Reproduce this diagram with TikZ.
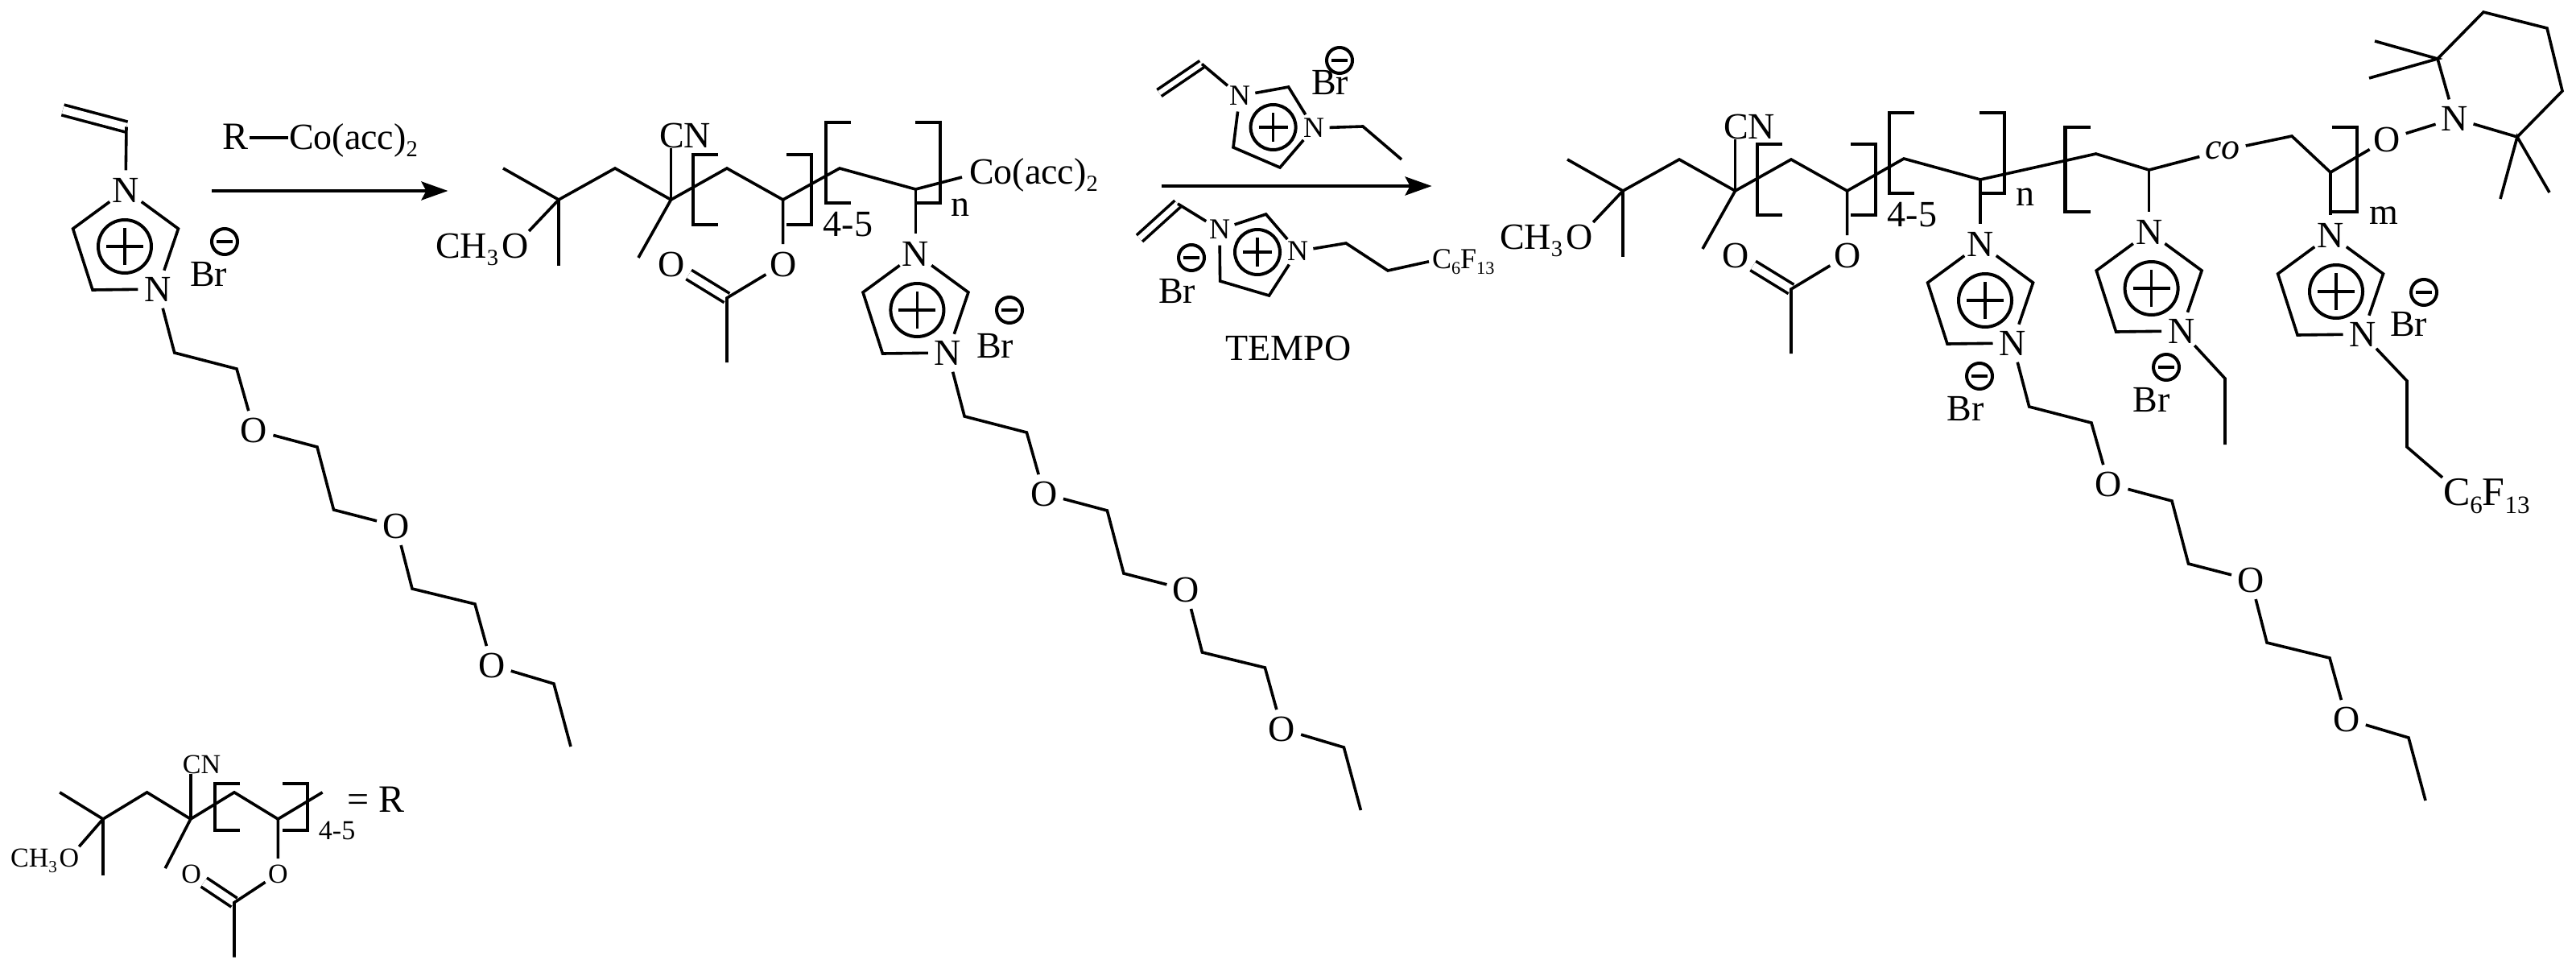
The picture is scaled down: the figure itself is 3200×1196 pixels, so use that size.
\documentclass[tikz,border=0pt]{standalone}
\usepackage{fontspec}
\setmainfont{Liberation Serif}
\usetikzlibrary{arrows.meta}

\newcommand{\AtomSize}{\fontsize{46}{50}\selectfont}
\newcommand{\chemsub}[1]{\raisebox{-.2em}{\scalebox{.62}{#1}}}

\newcommand{\ChargePlus}[4]{
  \node[ChargeStyle, minimum size=#3pt](#1) at #2 {};
  \draw[ChargeBarStyle, line width=3.5pt]([xshift=-#4pt]#1.center) -- ([xshift=#4pt]#1.center);
  \draw[ChargeBarStyle, line width=3.5pt]([yshift=-#4pt]#1.center) -- ([yshift=#4pt]#1.center);
}
\newcommand{\ChargeMinus}[2]{
  \node[ChargeStyle, minimum size=32pt](#1) at #2 {};
  \draw[ChargeBarStyle]([xshift=-10pt]#1.center) -- ([xshift=10pt]#1.center);
}
\newcommand{\PolyBracket}[4]{
  \draw[BracketStyle](#1+31,#3) -- (#1,#3) -- (#1,#4) -- (#1+31,#4);
  \draw[BracketStyle](#2-31,#3) -- (#2,#3) -- (#2,#4) -- (#2-31,#4);
}
% chain end with the acetate, from the quaternary carbon
\newcommand{\HeadUnit}{
  \coordinate(Cq) at (0,0);
  \coordinate(Me1) at (-69,-39);
  \coordinate(Me2) at (0,82);
  \coordinate(C2) at (70,-39);
  \coordinate(C3) at (139.5,0);
  \coordinate(Me3) at (99,72);
  \coordinate(C4) at (209,-39);
  \coordinate(C5) at (278.6,0);
  \coordinate(C10) at (209,122);
  \coordinate(Me4) at (209,202);
  \node[AtomStyle](OMe) at (-54,57) {O};
  \node[LabelStyle, anchor=base east, xshift=5pt](CH) at (OMe.base west) {CH\chemsub{3}};
  \node[LabelStyle](CN) at (157,-80) {CN};
  \node[AtomStyle](OEs) at (278.6,80) {O};
  \node[AtomStyle](OCo) at (140.5,80) {O};
  \draw[DoubleStyle](C10) to (OCo);
  \draw[BondStyle](Me1) -- (Cq) -- (C2) -- (C3) -- (C4) -- (C5) -- (OEs) -- (C10) -- (Me4);
  \draw[BondStyle](Cq) to (OMe);
  \draw[BondStyle](Cq) to (Me2);
  \draw[BondStyle](C3) to (Me3);
  \draw[BondStyle](C3) -- (C3 |- CN.south);
}
\newcommand{\RingUnit}[2]{
  \node[AtomStyle](N1) at (0,0) {N};
  \node[AtomStyle](N2) at (40,123) {N};
  \coordinate(Cr) at (65.5,48);
  \coordinate(Cl) at (-65.4,48);
  \coordinate(Cb) at (-41,124);
  \draw[BondStyle](N1) -- (Cr) -- (N2) -- (Cb) -- (Cl) -- (N1);
  \ChargePlus{Pl}{(#1,70)}{#2}{23}
}
\newcommand{\PegTail}{
  \coordinate(T1) at (20.7,79);
  \coordinate(T2) at (98,99);
  \node[AtomStyle](O1) at (119.5,175) {O};
  \coordinate(T3) at (198,196);
  \coordinate(T4) at (218.5,274);
  \node[AtomStyle](O2) at (296,294) {O};
  \coordinate(T5) at (316,372);
  \coordinate(T6) at (394,391);
  \node[AtomStyle](O3) at (415,467) {O};
  \coordinate(T7) at (492,490);
  \coordinate(T8) at (513,568);
  \draw[BondStyle](N2) -- (T1) -- (T2) -- (O1) -- (T3) -- (T4) -- (O2) -- (T5) -- (T6) -- (O3) -- (T7) -- (T8);
}

\begin{document}
\begin{tikzpicture}[x=1pt,y=-1pt]
  \tikzset{AtomStyle/.style = {
    shape         = circle,
    inner sep     = 1.5pt,
    outer sep     = 0pt,
    text          = black,
    font          = \AtomSize
    }
  }
  \tikzset{LabelStyle/.style = {
    shape         = rectangle,
    inner sep     = 1pt,
    outer sep     = 0pt,
    text          = black,
    font          = \AtomSize
    }
  }
  \tikzset{BondStyle/.style = {
    draw          = black,
    line width    = 3.6pt
    }
  }
  \tikzset{DoubleStyle/.style = {
    draw            = black,
    line width      = 3.6pt,
    double          = white,
    double distance = 9.5pt
    }
  }
  \tikzset{BracketStyle/.style = {
    draw          = black,
    line width    = 4.4pt
    }
  }
  \tikzset{ChargeStyle/.style = {
    shape         = circle,
    draw          = black,
    line width    = 4pt,
    inner sep     = 0pt,
    outer sep     = 0pt
    }
  }
  \tikzset{ChargeBarStyle/.style = {
    draw          = black,
    line width    = 4.5pt
    }
  }
  \tikzset{ArrowStyle/.style = {
    draw          = black,
    line width    = 4.4pt,
    -{Stealth[length=33pt,width=23pt,inset=6pt]}
    }
  }

  \useasboundingbox (0,0) rectangle (3200,1196);

  % monomer
  \begin{scope}[shift={(156,236)},name prefix=A-]
    \RingUnit{-1}{66}
    \begin{scope}[shift={(40,123)}]
      \PegTail
    \end{scope}
    \coordinate(V1) at (1,-78.5);
    \coordinate(V2) at (-78,-99.5);
    \draw[DoubleStyle](V1) to (V2);
    \draw[BondStyle](V1) to (N1);
  \end{scope}
  \ChargeMinus{AMi}{(279,300)}
  \node[LabelStyle](ABr) at (259,341) {Br};

  % first arrow
  \node[LabelStyle, anchor=base, font=\fontsize{48}{50}\selectfont](Rg) at (293,185) {R};
  \node[LabelStyle, anchor=base west](CoA) at (358,185) {Co(acc)\chemsub{2}};
  \draw[BondStyle]([yshift=14pt]Rg.base east) -- ([yshift=14pt]CoA.base west);
  \coordinate(Ar1a) at (263,237);
  \coordinate(Ar1b) at (556.5,237);
  \draw[ArrowStyle](Ar1a) to (Ar1b);

  % macroinitiator
  \begin{scope}[shift={(694,248)},name prefix=B-]
    \HeadUnit
  \end{scope}
  \PolyBracket{861}{1008}{192}{279}
  \PolyBracket{1026}{1168}{152}{252}
  \node[LabelStyle](B45) at (1053.6,279) {4-5};
  \node[LabelStyle](Bn) at (1193,258) {n};
  \coordinate(B6) at (1043,209);
  \coordinate(B7) at (1137.4,235);
  \node[LabelStyle, anchor=base west](CoB) at (1203,228) {Co(acc)\chemsub{2}};
  \begin{scope}[shift={(1137.4,315)},name prefix=BR-]
    \RingUnit{2}{66}
    \begin{scope}[shift={(40,123)}]
      \PegTail
    \end{scope}
  \end{scope}
  \draw[BondStyle](B-C5) -- (B6) -- (B7) -- ([xshift=-8pt,yshift=8pt]CoB.base west);
  \draw[BondStyle](B7) to (BR-N1);
  \ChargeMinus{BMi}{(1254,385)}
  \node[LabelStyle](BBr) at (1236,430) {Br};

  % reagents above and below the second arrow
  \begin{scope}[name prefix=C-]
    \renewcommand{\AtomSize}{\fontsize{36}{40}\selectfont}
    \node[AtomStyle](N1) at (1540,119) {N};
    \node[AtomStyle](N2) at (1632,159) {N};
    \coordinate(V1) at (1493,79.5);
    \coordinate(V2) at (1440,115.5);
    \coordinate(R1) at (1600.6,108);
    \coordinate(R2) at (1590,208);
    \coordinate(R3) at (1532,183);
    \coordinate(E1) at (1693,157);
    \coordinate(E2) at (1741,198);
    \draw[DoubleStyle, double distance=6pt](V1) to (V2);
    \draw[BondStyle](V1) -- (N1) -- (R1) -- (N2) -- (R2) -- (R3) -- (N1);
    \draw[BondStyle](N2) -- (E1) -- (E2);
    \ChargePlus{Pl}{(1581.6,158)}{56}{18}
  \end{scope}
  \ChargeMinus{CMi}{(1664,75)}
  \node[LabelStyle](CBr) at (1652,103) {Br};
  \begin{scope}[name prefix=D-]
    \renewcommand{\AtomSize}{\fontsize{36}{40}\selectfont}
    \node[AtomStyle](N1) at (1515,285) {N};
    \node[AtomStyle](N2) at (1612,312) {N};
    \node[LabelStyle, anchor=base west, inner sep=4pt](Rf) at (1775,333) {C\chemsub{6}F\chemsub{13}};
    \coordinate(V1) at (1463,253);
    \coordinate(V2) at (1415.5,296);
    \coordinate(R1) at (1572.6,266);
    \coordinate(R2) at (1576.5,367);
    \coordinate(R3) at (1515.6,349);
    \coordinate(E1) at (1672,302);
    \coordinate(E2) at (1724,336);
    \draw[DoubleStyle, double distance=7pt](V1) to (V2);
    \draw[BondStyle](V1) -- (N1) -- (R1) -- (N2) -- (R2) -- (R3) -- (N1);
    \draw[BondStyle](N2) -- (E1) -- (E2) -- (Rf.west);
    \ChargePlus{Pl}{(1562,313)}{56}{18}
  \end{scope}
  \ChargeMinus{DMi}{(1480,320)}
  \node[LabelStyle](DBr) at (1462,362) {Br};
  \node[LabelStyle](Tempo) at (1600.6,432) {TEMPO};
  \coordinate(Ar2a) at (1443,231);
  \coordinate(Ar2b) at (1778.6,231);
  \draw[ArrowStyle](Ar2a) to (Ar2b);

  % block copolymer
  \begin{scope}[shift={(2016,237)},name prefix=E-]
    \HeadUnit
  \end{scope}
  \PolyBracket{2183}{2330}{179}{267}
  \PolyBracket{2347}{2490}{140}{240}
  \PolyBracket{2565.6}{2927.7}{158}{263}
  \node[LabelStyle](E45) at (2375.5,267) {4-5};
  \node[LabelStyle](En) at (2516,245) {n};
  \node[LabelStyle](Em) at (2961,268) {m};
  \node[LabelStyle, font=\fontsize{46}{50}\itshape, inner sep=7pt](Eco) at (2761,187) {co};
  \coordinate(E6) at (2365,197);
  \coordinate(E7) at (2460,223);
  \coordinate(E8) at (2603.6,191);
  \coordinate(E9) at (2669.6,211);
  \coordinate(E10) at (2847,169);
  \coordinate(E11) at (2895,214);
  \begin{scope}[shift={(2460,303)},name prefix=F-]
    \RingUnit{6}{66}
    \begin{scope}[shift={(40,123)}]
      \PegTail
    \end{scope}
  \end{scope}
  \begin{scope}[shift={(2669.6,288)},name prefix=G-]
    \RingUnit{3}{66}
    \coordinate(T1) at (94.4,182);
    \coordinate(T2) at (94.4,264);
    \draw[BondStyle](N2) -- (T1) -- (T2);
  \end{scope}
  \begin{scope}[shift={(2895,292)},name prefix=H-]
    \RingUnit{7}{66}
    \node[LabelStyle, anchor=base west, font=\fontsize{50}{50}\selectfont](Rf) at (139,335) {C\chemsub{6}F\chemsub{13}};
    \coordinate(T1) at (95,181);
    \coordinate(T2) at (95,263);
    \draw[BondStyle](N2) -- (T1) -- (T2) -- (Rf.north west);
  \end{scope}
  \draw[BondStyle](E-C5) -- (E6) -- (E7) -- (E8) -- (E9) -- (Eco) -- (E10) -- (E11);
  \draw[BondStyle](E7) to (F-N1);
  \draw[BondStyle](E9) to (G-N1);
  \draw[BondStyle](E11) to (H-N1);
  \ChargeMinus{FMi}{(2459,467)}
  \node[LabelStyle](FBr) at (2441.6,508) {Br};
  \ChargeMinus{GMi}{(2691,456)}
  \node[LabelStyle](GBr) at (2672.4,497) {Br};
  \ChargeMinus{HMi}{(3011,363)}
  \node[LabelStyle](HBr) at (2992,403) {Br};

  % TEMPO end group
  \node[AtomStyle](TO) at (2965,173) {O};
  \node[AtomStyle](TN) at (3049,147) {N};
  \coordinate(P1) at (3028,73);
  \coordinate(P2) at (3085,15);
  \coordinate(P3) at (3164,35);
  \coordinate(P4) at (3183,113);
  \coordinate(P5) at (3127,170);
  \coordinate(P6) at (2950,51);
  \coordinate(P7) at (2943,97);
  \coordinate(P8) at (3106,247);
  \coordinate(P9) at (3167,239);
  \draw[BondStyle](E11) -- (TO) -- (TN) -- (P1) -- (P2) -- (P3) -- (P4) -- (P5) -- (TN);
  \draw[BondStyle](P6) -- (P1) -- (P7);
  \draw[BondStyle](P8) -- (P5) -- (P9);

  % definition of R
  \begin{scope}[shift={(128,1017)},xscale=.78,yscale=.85,name prefix=R-]
    \renewcommand{\AtomSize}{\fontsize{34}{36}\selectfont}
    \HeadUnit
    \coordinate(C6) at (349.5,-39);
    \draw[BondStyle](C5) to (C6);
  \end{scope}
  \PolyBracket{267}{382}{973}{1031}
  \node[LabelStyle, font=\fontsize{34}{36}\selectfont](R45) at (418.6,1031) {4-5};
  \node[LabelStyle, anchor=base west, font=\fontsize{48}{50}\selectfont](REq) at (430,1008) {= R};
\end{tikzpicture}
\end{document}
